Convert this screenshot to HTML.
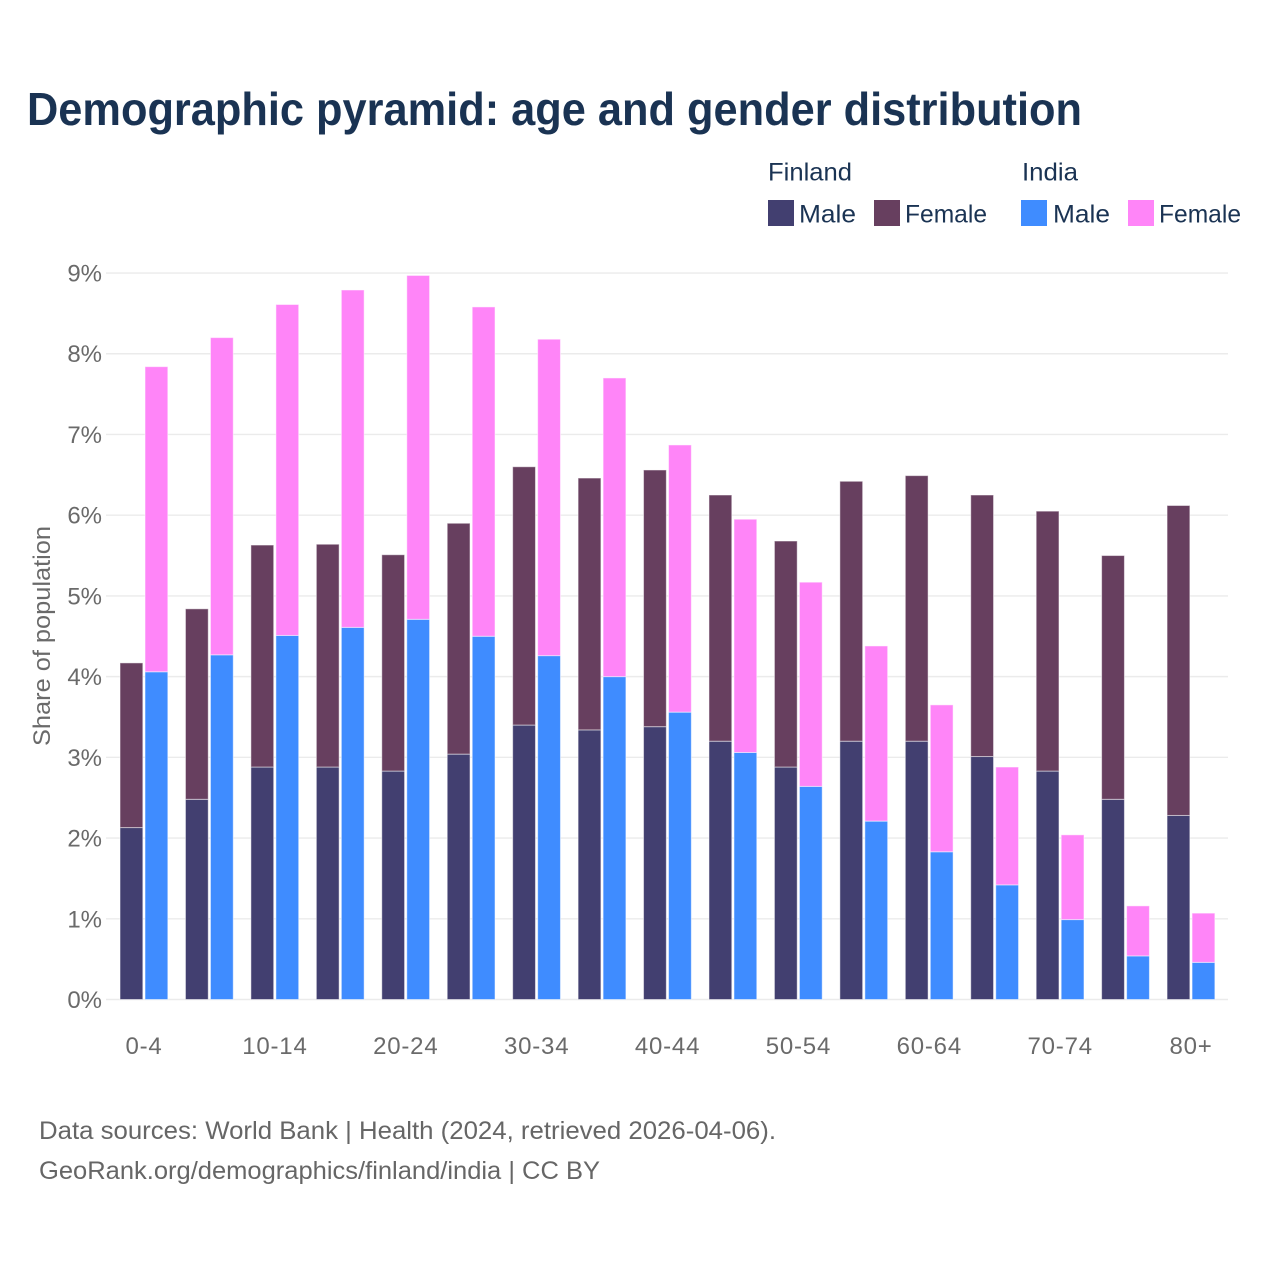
<!DOCTYPE html>
<html lang="en">
<head>
<meta charset="utf-8">
<title>Demographic pyramid: age and gender distribution</title>
<style>
html,body{margin:0;padding:0;background:#fff;}
svg{display:block;font-family:"Liberation Sans",sans-serif;}
.legend-text{font-size:25px;fill:#1a3353;}
.footer{font-size:25px;fill:#666;}
.tick{font-size:24px;fill:#6a6a6a;}
</style>
</head>
<body>
<svg id="chart" width="1280" height="1280" viewBox="0 0 1280 1280" xmlns="http://www.w3.org/2000/svg">
  <rect x="0" y="0" width="1280" height="1280" fill="#fff"/>
  <text x="27" y="125" font-size="46" font-weight="700" fill="#1a3353" textLength="1055" lengthAdjust="spacingAndGlyphs">Demographic pyramid: age and gender distribution</text>

  <g>
    <text class="legend-text" x="768" y="180.5" textLength="84" lengthAdjust="spacingAndGlyphs">Finland</text>
    <text class="legend-text" x="1022" y="180.5" textLength="56" lengthAdjust="spacingAndGlyphs">India</text>
    <rect x="768" y="200" width="26" height="26" fill="#423f70"/>
    <text class="legend-text" x="799" y="222.5" textLength="57" lengthAdjust="spacingAndGlyphs">Male</text>
    <rect x="874" y="200" width="26" height="26" fill="#673f5f"/>
    <text class="legend-text" x="905" y="222.5" textLength="82" lengthAdjust="spacingAndGlyphs">Female</text>
    <rect x="1021" y="200" width="26" height="26" fill="#3f8cff"/>
    <text class="legend-text" x="1053" y="222.5" textLength="57" lengthAdjust="spacingAndGlyphs">Male</text>
    <rect x="1128" y="200" width="26" height="26" fill="#ff85f8"/>
    <text class="legend-text" x="1159" y="222.5" textLength="82" lengthAdjust="spacingAndGlyphs">Female</text>
  </g>

  <g id="grid"></g>
  <g id="y-ticks"></g>
  <g id="bars"></g>
  <g id="x-ticks"></g>

  <text class="tick" transform="translate(50,636) rotate(-90)" text-anchor="middle" textLength="220" lengthAdjust="spacingAndGlyphs">Share of population</text>

  <text class="footer" x="39" y="1139" textLength="737" lengthAdjust="spacingAndGlyphs">Data sources: World Bank | Health (2024, retrieved 2026-04-06).</text>
  <text class="footer" x="39" y="1179" textLength="561" lengthAdjust="spacingAndGlyphs">GeoRank.org/demographics/finland/india | CC BY</text>
</svg>
<script>
const categories = ["0-4","5-9","10-14","15-19","20-24","25-29","30-34","35-39","40-44","45-49","50-54","55-59","60-64","65-69","70-74","75-79","80+"];
const finlandMale = [2.13,2.48,2.88,2.88,2.83,3.04,3.40,3.34,3.38,3.20,2.88,3.20,3.20,3.01,2.83,2.48,2.28];
const finlandFemale = [2.04,2.36,2.75,2.76,2.68,2.86,3.20,3.12,3.18,3.05,2.80,3.22,3.29,3.24,3.22,3.02,3.84];
const indiaMale = [4.06,4.27,4.51,4.61,4.71,4.50,4.26,4.00,3.56,3.06,2.64,2.21,1.83,1.42,0.99,0.54,0.46];
const indiaFemale = [3.78,3.93,4.10,4.18,4.26,4.08,3.92,3.70,3.31,2.89,2.53,2.17,1.82,1.46,1.05,0.62,0.61];
const yTicks = [0,1,2,3,4,5,6,7,8,9];

const NS = "http://www.w3.org/2000/svg";
const PLOT_LEFT = 111.3, STEP = 65.44, BAR_W = 22.8, BAR_OFFSET_LEFT = 24, BAR_OFFSET_RIGHT = 1;
const Y0 = 999.5, PX_PER_UNIT = 80.72;

function xBand(i) { return PLOT_LEFT + STEP * i; }
function xCenter(i) { return xBand(i) + STEP / 2; }
function yScale(v) { return Y0 - v * PX_PER_UNIT; }

function addBar(parent, name, x, v0, v1, fill) {
  const r = document.createElementNS(NS, "rect");
  
  
  r.setAttribute("x", x);
  r.setAttribute("y", yScale(v1));
  r.setAttribute("width", BAR_W);
  r.setAttribute("height", yScale(v0) - yScale(v1));
  r.setAttribute("fill", fill);
  r.setAttribute("stroke", "#fff");
  r.setAttribute("stroke-opacity", "0.5");
  r.setAttribute("stroke-width", "1");
  parent.appendChild(r);
}

const gridG = document.getElementById("grid");
const yTickG = document.getElementById("y-ticks");
yTicks.forEach(function (t) {
  const line = document.createElementNS(NS, "line");
  
  
  line.setAttribute("x1", 106);
  line.setAttribute("x2", 1228);
  line.setAttribute("y1", yScale(t));
  line.setAttribute("y2", yScale(t));
  line.setAttribute("stroke", "#ebebeb");
  line.setAttribute("stroke-width", "1.4");
  gridG.appendChild(line);

  const label = document.createElementNS(NS, "text");
  
  
  label.setAttribute("class", "tick");
  label.setAttribute("x", 102);
  label.setAttribute("y", yScale(t) + 8.5);
  label.setAttribute("text-anchor", "end");
  label.textContent = t + "%";
  yTickG.appendChild(label);
});

const barsG = document.getElementById("bars");
const xTickG = document.getElementById("x-ticks");
categories.forEach(function (cat, i) {
  const center = xCenter(i);
  const xF = center - BAR_OFFSET_LEFT;
  const xI = center + BAR_OFFSET_RIGHT;
  addBar(barsG, "bar-finland-male-" + cat, xF, 0, finlandMale[i], "#423f70");
  addBar(barsG, "bar-finland-female-" + cat, xF, finlandMale[i], finlandMale[i] + finlandFemale[i], "#673f5f");
  addBar(barsG, "bar-india-male-" + cat, xI, 0, indiaMale[i], "#3f8cff");
  addBar(barsG, "bar-india-female-" + cat, xI, indiaMale[i], indiaMale[i] + indiaFemale[i], "#ff85f8");

  if (i % 2 === 0) {
    const label = document.createElementNS(NS, "text");
    
    
    label.setAttribute("class", "tick");
    label.setAttribute("x", center);
    label.setAttribute("y", 1054);
    label.setAttribute("text-anchor", "middle");
    label.setAttribute("letter-spacing", "0.8");
    label.textContent = cat;
    xTickG.appendChild(label);
  }
});
</script>
</body>
</html>
